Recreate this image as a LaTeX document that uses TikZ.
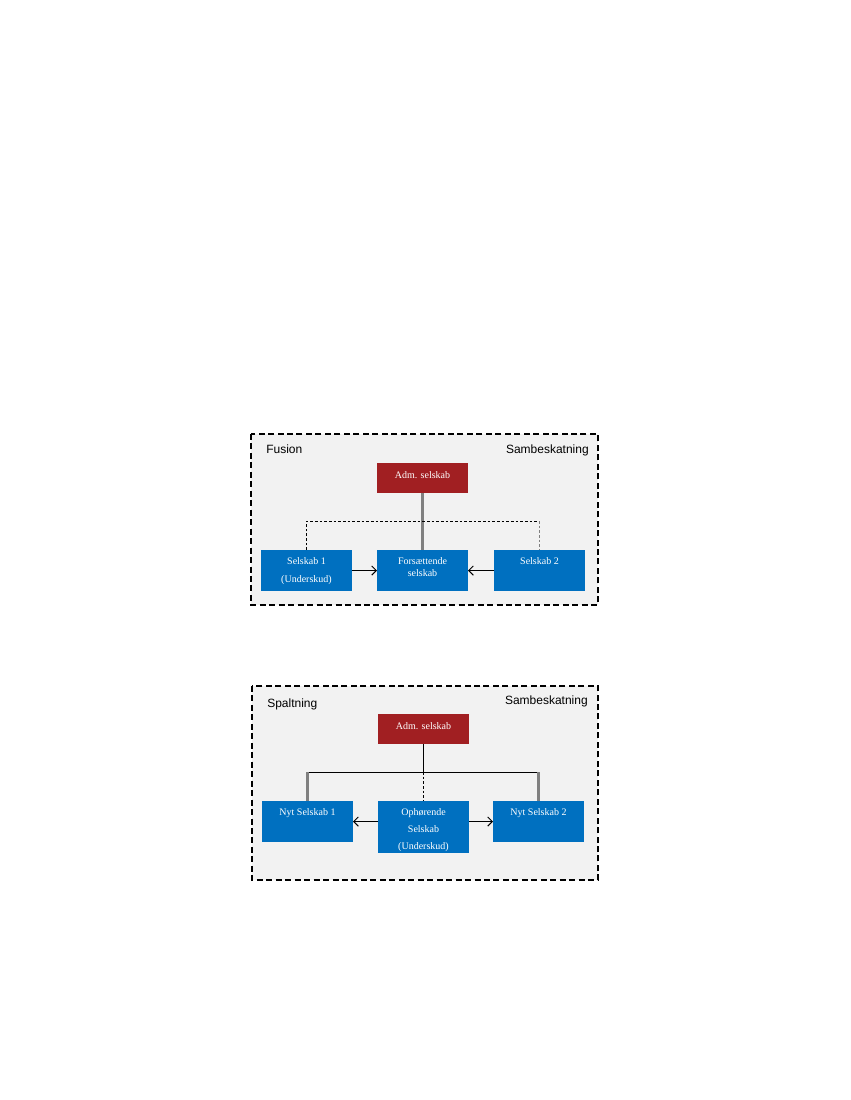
\documentclass[tikz,border=0pt]{standalone}
\usepackage{fontspec}
\setmainfont{Liberation Serif}
\newfontfamily\lsans{Liberation Sans}
\usetikzlibrary{arrows.meta}
\definecolor{boxblue}{HTML}{0070C0}
\definecolor{boxred}{HTML}{A11F22}
\definecolor{bggray}{HTML}{F2F2F2}
\definecolor{linegray}{HTML}{808080}
\begin{document}
\begin{tikzpicture}[x=0.75pt,y=-0.75pt,
  frame/.style={draw=black, fill=bggray, line width=1.6pt, dash pattern=on 4.5pt off 2.6pt},
  blue box/.style={fill=boxblue, draw=none, inner sep=0pt, outer sep=0pt, anchor=north west, minimum width=68.25pt, minimum height=30.75pt},
  red box/.style={fill=boxred, draw=none, inner sep=0pt, outer sep=0pt, anchor=north west, minimum width=68.25pt, minimum height=22.5pt},
  boxtext/.style={anchor=north, text=white, font=\fontsize{7.5}{9}\selectfont, align=center, inner sep=0pt, yshift=-5.5pt},
  corner/.style={font=\lsans\fontsize{9}{11}\selectfont, inner sep=0pt},
  arr/.style={-{Straight Barb[length=3.5pt,width=7pt]}, line width=0.7pt},
  link/.style={line width=0.7pt},
  glink/.style={line width=1.6pt, draw=linegray},
  dlink/.style={line width=0.7pt, dash pattern=on 2pt off 1.5pt}
]
\useasboundingbox (0,0) rectangle (850,1100);

% ---------------- Fusion ----------------
\path[frame] (251,434) rectangle (598,605);
\node[corner, anchor=base west] (fusion) at (266,453) {Fusion};
\node[corner, anchor=base east] (samb1) at (589,453) {Sambeskatning};

\node[red box, label={[boxtext, yshift=-1pt]north:Adm. selskab}] (adm1) at (377,463) {};
\node[blue box, label={[boxtext, font=\fontsize{7.5}{13.5}\selectfont]north:Selskab 1\\(Underskud)}] (s1) at (261,550) {};
\node[blue box, label={[boxtext]north:Forsættende\\selskab}] (fors) at (377,550) {};
\node[blue box, label={[boxtext]north:Selskab 2}] (s2) at (494,550) {};

\coordinate (f1) at (s1.north |- 0,521);
\coordinate (f2) at (s2.north |- 0,521);
\draw[glink] (adm1.south) -- (fors.north);
\draw[dlink] (s1.north) -- (f1) -- (f2);
\draw[dlink, draw=linegray, line width=1.1pt] (f2) -- (s2.north);
\draw[arr] (s1.east) -- (fors.west);
\draw[arr] (s2.west) -- (fors.east);

% ---------------- Spaltning ----------------
\path[frame] (252,686) rectangle (598,880);
\node[corner, anchor=base west] (spalt) at (267,707) {Spaltning};
\node[corner, anchor=base east] (samb2) at (588,704) {Sambeskatning};

\node[red box, label={[boxtext, yshift=-1pt]north:Adm. selskab}] (adm2) at (378,714) {};
\node[blue box, label={[boxtext]north:Nyt Selskab 1}] (n1) at (262,801) {};
\node[blue box, minimum height=39pt, label={[boxtext, font=\fontsize{7.5}{12.75}\selectfont]north:Ophørende\\Selskab\\(Underskud)}] (oph) at (378,801) {};
\node[blue box, label={[boxtext]north:Nyt Selskab 2}] (n2) at (493,801) {};

\coordinate (mid) at (adm2.south |- 0,772);
\coordinate (c1) at (n1.north |- 0,772);
\coordinate (c2) at (n2.north |- 0,772);
\draw[link] (adm2.south) -- (mid);
\draw[dlink] (mid) -- (oph.north);
\draw[link] (c1) -- (c2);
\draw[glink] (c1) -- (n1.north);
\draw[glink] (c2) -- (n2.north);
\draw[arr] (oph.west |- n1.east) -- (n1.east);
\draw[arr] (oph.east |- n2.west) -- (n2.west);
\end{tikzpicture}
\end{document}
